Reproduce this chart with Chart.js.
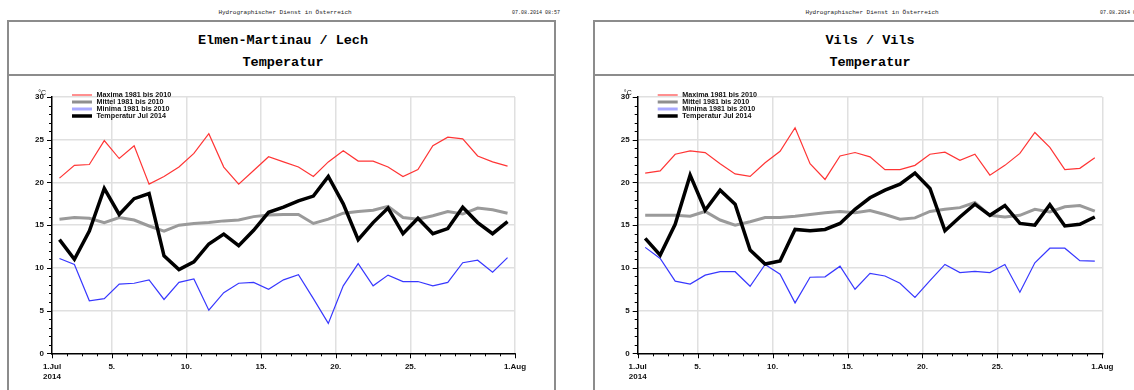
<!DOCTYPE html>
<html><head><meta charset="utf-8">
<script src="https://cdn.jsdelivr.net/npm/chart.js@4.4.1/dist/chart.umd.min.js"></script>
<style>
html,body{margin:0;padding:0;background:#fff;width:1134px;height:390px;overflow:hidden;}
body{position:relative;}
.frame{position:absolute;top:20px;height:400px;border:2px solid #8c8c8c;border-bottom:none;box-sizing:border-box;}
.sep{position:absolute;height:0;border-top:2px solid #8c8c8c;}
.hdr{position:absolute;font-family:"Liberation Mono",monospace;font-size:6px;color:#222;white-space:nowrap;line-height:8px;}
.ttl{position:absolute;font-family:"Liberation Mono",monospace;font-weight:bold;font-size:13.5px;color:#000;white-space:nowrap;line-height:16px;transform:translateX(-50%);}
canvas{position:absolute;top:0;}
</style></head><body>
<div class="hdr" style="left:285px;top:9px;transform:translateX(-50%)">Hydrographischer Dienst in Österreich</div>
<div class="hdr" style="left:512px;top:9px;font-size:5px;">07.08.2014 08:57</div>
<div class="hdr" style="left:872px;top:9px;transform:translateX(-50%)">Hydrographischer Dienst in Österreich</div>
<div class="hdr" style="left:1100px;top:9px;font-size:5px;">07.08.2014 08:57</div>
<div class="frame" style="left:7px;width:549px;"></div>
<div class="sep" style="left:7px;width:549px;top:74px;"></div>
<div class="frame" style="left:593px;width:560px;"></div>
<div class="sep" style="left:593px;width:560px;top:74px;"></div>
<div class="ttl" style="left:283px;top:33px;">Elmen-Martinau / Lech</div>
<div class="ttl" style="left:283px;top:55px;">Temperatur</div>
<div class="ttl" style="left:870px;top:33px;">Vils / Vils</div>
<div class="ttl" style="left:870px;top:55px;">Temperatur</div>
<canvas id="c1" width="567" height="390" style="left:0px"></canvas>
<canvas id="c2" width="567" height="390" style="left:567px"></canvas>
<script>
// ---- data ----
const days = [1,2,3,4,5,6,7,8,9,10,11,12,13,14,15,16,17,18,19,20,21,22,23,24,25,26,27,28,29,30,31];
const seriesLabels = ['Maxima 1981 bis 2010','Mittel 1981 bis 2010','Minima 1981 bis 2010','Temperatur Jul 2014'];
const xTickDays = [1,5,10,15,20,25,32];
const xTickLabels = [['1.Jul','2014'],'5.','10.','15.','20.','25.','1.Aug'];
const yTickValues = [0,5,10,15,20,25,30];

const elmenMax  = [20.5,22.0,22.1,24.9,22.8,24.3,19.8,20.7,21.8,23.4,25.7,21.8,19.8,21.4,23.0,22.4,21.8,20.7,22.4,23.7,22.5,22.5,21.8,20.7,21.5,24.3,25.3,25.1,23.1,22.4,21.9];
const elmenMean = [15.7,15.9,15.8,15.3,15.9,15.6,14.9,14.3,15.0,15.2,15.3,15.5,15.6,16.0,16.2,16.25,16.25,15.2,15.7,16.4,16.6,16.75,17.2,15.9,15.7,16.1,16.6,16.3,17.0,16.8,16.4];
const elmenMin  = [11.1,10.4,6.15,6.4,8.1,8.2,8.6,6.3,8.3,8.7,5.05,7.1,8.2,8.3,7.5,8.6,9.2,6.4,3.5,7.9,10.5,7.9,9.15,8.4,8.4,7.9,8.3,10.6,10.9,9.5,11.2];
const elmenTemp = [13.3,11.0,14.3,19.3,16.25,18.1,18.7,11.4,9.8,10.7,12.8,13.95,12.6,14.4,16.5,17.1,17.85,18.4,20.7,17.5,13.3,15.3,17.0,14.0,15.8,14.0,14.6,17.1,15.3,14.0,15.4];

const vilsMax  = [21.1,21.35,23.3,23.7,23.5,22.2,21.0,20.7,22.3,23.65,26.4,22.2,20.35,23.1,23.5,23.0,21.5,21.5,22.0,23.3,23.55,22.6,23.3,20.85,22.0,23.4,25.85,24.1,21.5,21.65,22.9];
const vilsMean = [16.15,16.15,16.15,16.05,16.6,15.6,15.0,15.4,15.9,15.9,16.05,16.25,16.45,16.6,16.45,16.7,16.25,15.7,15.85,16.6,16.85,17.05,17.65,16.15,15.95,16.15,16.85,16.55,17.15,17.3,16.65];
const vilsMin  = [12.4,11.1,8.45,8.1,9.15,9.55,9.55,7.85,10.4,9.25,5.9,8.9,8.95,10.2,7.5,9.35,9.05,8.2,6.55,8.5,10.4,9.45,9.6,9.45,10.4,7.15,10.6,12.3,12.3,10.85,10.8];
const vilsTemp = [13.45,11.5,15.1,20.85,16.75,19.1,17.45,12.1,10.45,10.8,14.5,14.35,14.5,15.2,16.85,18.2,19.1,19.8,21.1,19.3,14.35,15.95,17.45,16.15,17.3,15.2,15.0,17.4,14.9,15.1,15.95];

// ---- styles ----
const lineColors = ['#ff3535','#9a9a9a','#3838ff','#000000'];
const lineWidths = [1.2,3,1.2,3.5];
const legendColors = ['#ff6a6a','#8f8f8f','#a8a8ff','#000000'];
const legendWidths = [1.5,3,3,3.5];
const drawOrder = [2,1,3,0];
const FONT = '"Liberation Sans", Arial, sans-serif';

const decor = {
  id: 'decor',
  afterDraw(chart) {
    const ctx = chart.ctx, a = chart.chartArea, xs = chart.scales.x, ys = chart.scales.y;
    ctx.save();
    ctx.strokeStyle = '#000';
    ctx.lineWidth = 1;
    for (let v = 0; v <= 30; v++) {
      const y = Math.round(ys.getPixelForValue(v)) + 0.5;
      const len = (v % 5 === 0) ? 5 : 3;
      ctx.beginPath(); ctx.moveTo(a.left - len, y); ctx.lineTo(a.left, y); ctx.stroke();
    }
    for (let d = 0; d <= 31; d++) {
      const x = Math.round(xs.getPixelForValue(d)) + 0.5;
      const len = xTickDays.includes(d + 1) ? 5 : 3;
      ctx.beginPath(); ctx.moveTo(x, a.bottom); ctx.lineTo(x, a.bottom + len); ctx.stroke();
    }
    // unit
    ctx.fillStyle = '#111';
    ctx.font = '7px ' + FONT;
    ctx.textAlign = 'right';
    ctx.textBaseline = 'alphabetic';
    ctx.fillText('°C', a.left - 6, a.top - 2);
    // legend
    ctx.font = 'bold 7.2px ' + FONT;
    ctx.textAlign = 'left';
    ctx.textBaseline = 'middle';
    seriesLabels.forEach((lab, i) => {
      const y = a.top - 2 + i * 7;
      ctx.strokeStyle = legendColors[i];
      ctx.lineWidth = legendWidths[i];
      ctx.beginPath(); ctx.moveTo(a.left + 20, y); ctx.lineTo(a.left + 40, y); ctx.stroke();
      ctx.fillStyle = '#111';
      ctx.fillText(lab, a.left + 44.5, y + 0.3);
    });
    ctx.restore();
  }
};

function makeChart(id, series, padL, padR) {
  const datasets = series.map((vals, i) => ({
    label: seriesLabels[i],
    data: days.map((d, k) => ({x: d - 0.5, y: vals[k]})),
    borderColor: lineColors[i],
    borderWidth: lineWidths[i],
    pointRadius: 0,
    tension: 0,
    fill: false,
    order: drawOrder[i]
  }));
  return new Chart(document.getElementById(id), {
    type: 'line',
    data: {datasets},
    options: {
      responsive: false, animation: false, devicePixelRatio: 1,
      layout: {padding: {left: padL, right: padR, top: 97, bottom: 6.7}},
      plugins: {legend: {display: false}, tooltip: {enabled: false}, title: {display: false}},
      scales: {
        x: {
          type: 'linear', min: 0, max: 31,
          afterBuildTicks: s => { s.ticks = Array.from({length: 32}, (_, i) => ({value: i})); },
          afterFit: s => { s.height = 30; },
          grid: {
            color: c => (c.tick && xTickDays.includes(c.tick.value + 1) && c.tick.value !== 0) ? '#e0e0e0' : 'rgba(0,0,0,0)',
            lineWidth: 1.5, drawTicks: false
          },
          border: {color: '#000', width: 1.5},
          ticks: {
            autoSkip: false, maxRotation: 0, minRotation: 0, padding: 9,
            color: '#111', font: {family: FONT, weight: 'bold', size: 8, lineHeight: 1.2},
            callback: v => { const k = xTickDays.indexOf(v + 1); return k >= 0 ? xTickLabels[k] : ''; }
          }
        },
        y: {
          min: 0, max: 30,
          afterBuildTicks: s => { s.ticks = Array.from({length: 31}, (_, i) => ({value: i})); },
          afterFit: s => { s.width = 40; },
          grid: {
            color: c => (c.tick && yTickValues.includes(c.tick.value) && c.tick.value !== 0) ? '#e0e0e0' : 'rgba(0,0,0,0)',
            lineWidth: 1.5, drawTicks: false
          },
          border: {color: '#000', width: 1.5},
          ticks: {
            autoSkip: false, padding: 8,
            color: '#111', font: {family: FONT, weight: 'bold', size: 8},
            callback: v => yTickValues.includes(v) ? String(v) : ''
          }
        }
      }
    },
    plugins: [decor]
  });
}

makeChart('c1', [elmenMax, elmenMean, elmenMin, elmenTemp], 12, 52);
makeChart('c2', [vilsMax, vilsMean, vilsMin, vilsTemp], 30.7, 31.7);
</script>
</body></html>
